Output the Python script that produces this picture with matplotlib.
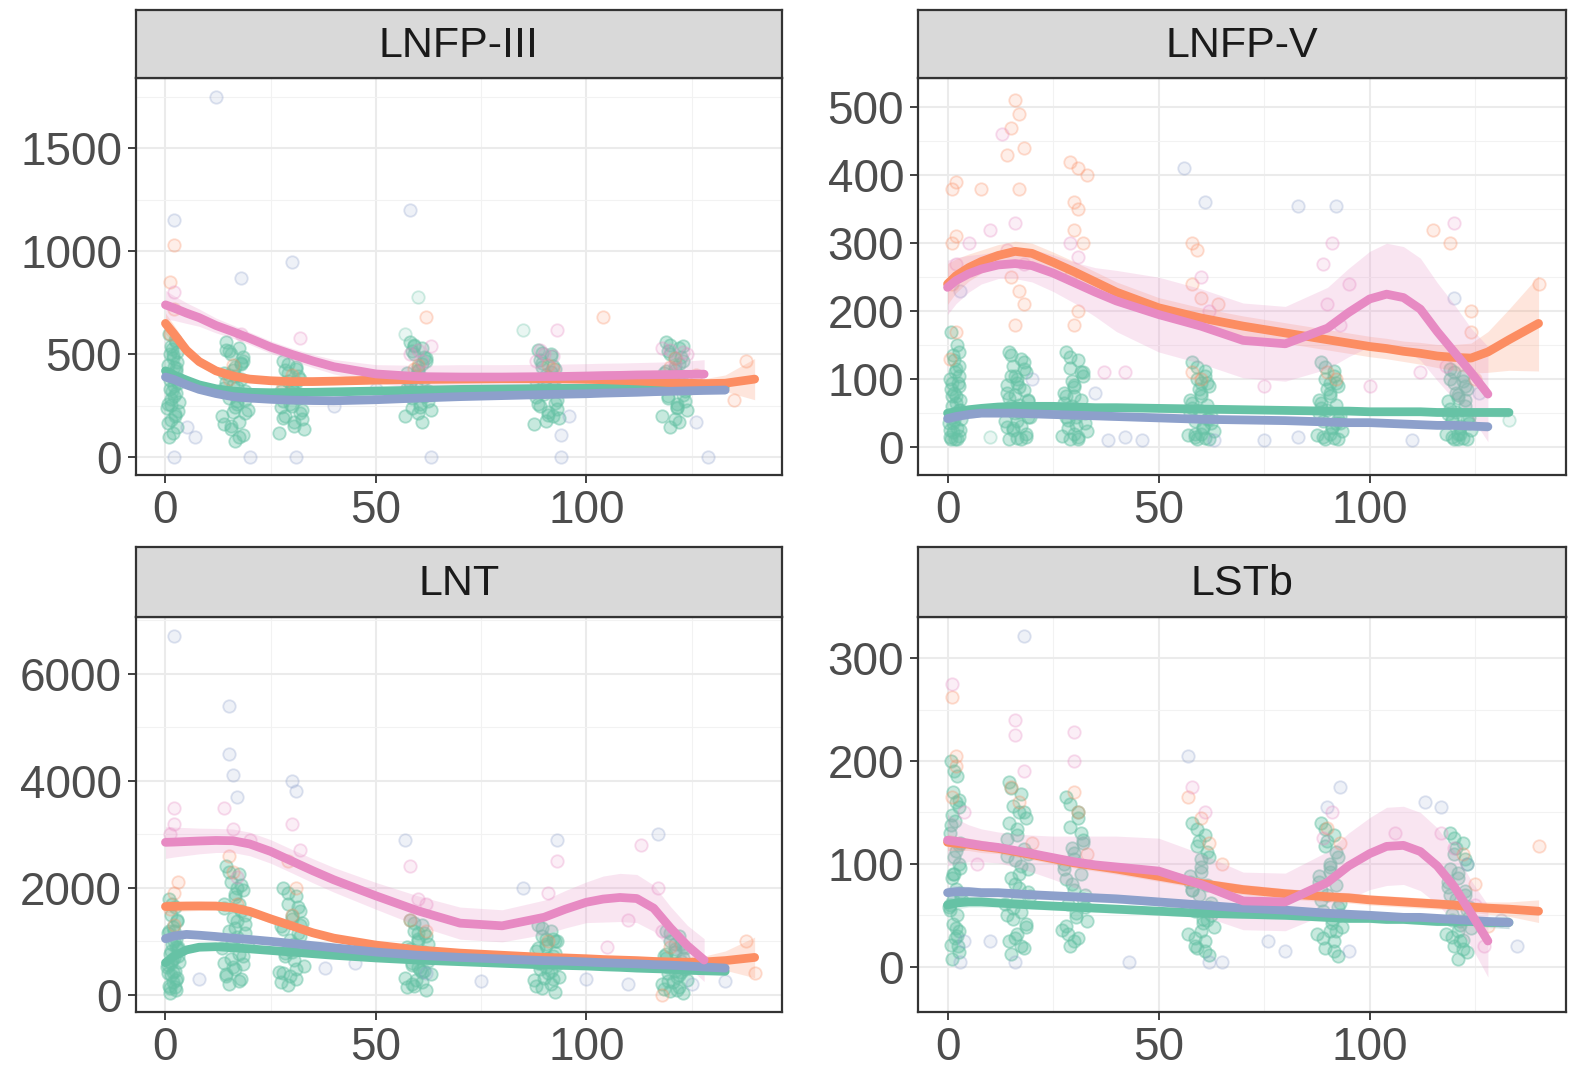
import numpy as np
import matplotlib.pyplot as plt
from matplotlib.colors import to_rgba
from matplotlib.ticker import MultipleLocator

plt.rcParams['font.family'] = ['Liberation Sans', 'DejaVu Sans']

GREEN = "#66C2A5"
ORANGE = "#FC8D62"
BLUE = "#8DA0CB"
PINK = "#E78AC3"

panel_titles = ["LNFP-III", "LNFP-V", "LNT", "LSTb"]
x_ticks = [0, 50, 100]

# sampling days of the green group (same subjects / days for every HMO)
green_days = [0.8, 2.3, 1.3, 2.8, 1.8, 0.6, 2.6, 1.6, 3.0, 1.1, 2.1, 3.2, 0.3, 2.3, 1.3, 2.8, 1.8, 0.8, 2.6, 1.1, 2.1, 3.0, 1.6, 0.6, 2.3,
              14.5, 17.5, 15.5, 18.5, 16.5, 14, 18, 16, 19, 15, 17, 19.5, 13.5, 17.5, 15.5, 18.5, 16.5, 14.5, 18, 15, 17, 19, 16, 14, 17.5,
              28, 31, 29, 32, 30, 27.5, 31.5, 29.5, 32.5, 28.5, 30.5, 33, 27, 31, 29, 32, 30, 28,
              58, 61, 59, 62, 60, 57.5, 61.5, 59.5, 62.5, 58.5, 60.5, 63, 57, 61, 59, 62, 60, 58, 61.5, 58.5,
              88.5, 91.5, 89.5, 92.5, 90.5, 88, 92, 90, 93, 89, 91, 93.5, 87.5, 91.5, 89.5, 92.5, 90.5, 88.5, 92,
              119, 122, 120, 123, 121, 118.5, 122.5, 120.5, 123.5, 119.5, 121.5, 124, 118, 122, 120, 123, 121, 119, 122.5, 119.5, 121.5]
green_days_b = [1.5, 2.7, 0.9, 2.0, 1.2, 2.9, 0.5, 1.9, 2.4, 1.0, 2.6, 1.4,
                15, 18, 16.5, 14, 17, 19, 15.5, 18.5, 16, 14.5, 17.5, 16.5,
                29, 31.5, 30, 28, 32, 30.5, 28.5, 31, 29.5, 27.5, 32.5, 30,
                59, 61.5, 60, 58, 62, 60.5, 58.5, 61, 59.5, 57.5, 62.5, 60,
                89.5, 92, 90.5, 88.5, 92.5, 91, 89, 91.5, 90, 88, 93, 90.5,
                120, 122.5, 121, 119, 123, 121.5, 119.5, 122, 120.5, 118.5, 123.5, 121]

# x positions of the loess fits
smooth_x = [0, 2, 5, 8, 12, 16, 20, 25, 30, 35, 40, 50, 60, 70, 80, 90, 95, 100, 104, 108, 112, 116, 120, 124, 128, 133, 140]

# ---------------- LNFP-III ----------------
lnfp3_green_y = [600, 570, 540, 510, 480, 450, 420, 390, 360, 330, 300, 270, 240, 210, 180, 150, 120, 100, 560, 500, 440, 380, 320, 260, 200,
                 560, 530, 500, 470, 440, 410, 380, 350, 320, 290, 260, 230, 200, 170, 140, 110, 80, 520, 460, 400, 340, 280, 220, 160, 100,
                 470, 440, 410, 380, 350, 320, 290, 260, 230, 200, 170, 140, 120, 430, 370, 310, 250, 190,
                 560, 530, 500, 470, 440, 410, 380, 350, 320, 290, 260, 230, 200, 170, 540, 480, 420, 360, 300, 240,
                 520, 490, 460, 430, 400, 370, 340, 310, 280, 250, 220, 190, 160, 500, 440, 380, 320, 260, 200,
                 560, 530, 500, 470, 440, 410, 380, 350, 320, 290, 260, 230, 200, 170, 150, 540, 480, 420, 360, 300, 240]
lnfp3_green_y_b = [525, 465, 405, 345, 285, 225, 165, 495, 435, 375, 315, 255,
                   515, 455, 395, 335, 275, 215, 155, 485, 425, 365, 305, 245,
                   455, 395, 335, 275, 215, 155, 425, 365, 305, 245, 185, 325,
                   545, 485, 425, 365, 305, 245, 515, 455, 395, 335, 275, 215,
                   505, 445, 385, 325, 265, 205, 475, 415, 355, 295, 235, 175,
                   545, 485, 425, 365, 305, 245, 515, 455, 395, 335, 275, 185]
lnfp3_extra_x = [60, 85, 57]
lnfp3_extra_y = [780, 620, 600]
lnfp3_orange_x = [2, 1, 2, 62, 104, 138, 135, 1, 16, 30, 60, 92, 121, 126, 59, 91, 120, 15, 28]
lnfp3_orange_y = [1030, 850, 720, 680, 680, 470, 280, 600, 450, 400, 450, 430, 480, 400, 430, 450, 440, 380, 350]
lnfp3_blue_x = [2, 12, 18, 30, 58, 2, 20, 31, 63, 94, 129, 94, 5, 7, 126, 96, 50, 40]
lnfp3_blue_y = [1150, 1750, 870, 950, 1200, 0, 0, 0, 0, 0, 0, 110, 150, 100, 170, 200, 330, 250]
lnfp3_pink_x = [2, 93, 18, 32, 60, 90, 120, 124, 63, 88, 58, 61, 89, 92, 118, 123, 121]
lnfp3_pink_y = [800, 620, 600, 580, 520, 500, 520, 500, 540, 470, 500, 470, 520, 490, 530, 510, 460]

lnfp3_green_fit = [420, 400, 375, 352, 333, 322, 316, 314, 315, 316, 318, 322, 326, 330, 332, 334, 335, 335, 336, 336, 337, 338, 338, 339, 340, 341, None]
lnfp3_green_se = [25, 22, 18, 15, 13, 12, 12, 12, 12, 12, 12, 12, 12, 12, 12, 12, 12, 12, 12, 12, 12, 12, 12, 13, 14, 16, None]
lnfp3_orange_fit = [650, 600, 520, 465, 420, 395, 380, 372, 368, 368, 370, 375, 378, 380, 382, 382, 381, 379, 377, 374, 371, 367, 363, 360, 358, 360, 380]
lnfp3_orange_se = [50, 42, 30, 24, 19, 16, 15, 15, 15, 15, 15, 15, 15, 15, 15, 15, 15, 15, 15, 15, 16, 17, 18, 20, 24, 40, 100]
lnfp3_blue_fit = [390, 378, 352, 330, 310, 295, 288, 282, 278, 276, 275, 280, 288, 295, 300, 305, 307, 309, 312, 314, 316, 319, 321, 323, 325, 327, None]
lnfp3_blue_se = [22, 19, 16, 14, 13, 12, 11, 11, 11, 11, 11, 11, 11, 11, 11, 11, 11, 11, 11, 11, 12, 12, 13, 15, 17, 20, None]
lnfp3_pink_fit = [740, 725, 700, 678, 640, 610, 578, 535, 500, 468, 440, 405, 392, 390, 390, 392, 393, 395, 397, 398, 400, 401, 402, 403, 404, None, None]
lnfp3_pink_se = [70, 60, 50, 42, 36, 32, 30, 30, 30, 32, 35, 45, 55, 60, 60, 60, 60, 60, 60, 60, 60, 61, 62, 65, 70, None, None]

# ---------------- LNFP-V ----------------
lnfp5_green_y = [170, 150, 135, 120, 110, 100, 90, 80, 70, 60, 50, 42, 35, 28, 22, 16, 12, 12, 140, 95, 75, 55, 40, 25, 12,
                 140, 130, 120, 110, 100, 92, 84, 76, 68, 60, 52, 45, 38, 31, 25, 19, 13, 12, 125, 105, 88, 70, 50, 30, 12,
                 140, 128, 116, 104, 92, 80, 70, 60, 50, 40, 32, 24, 17, 12, 12, 110, 75, 45,
                 125, 112, 100, 90, 80, 70, 62, 54, 46, 38, 30, 24, 18, 13, 12, 12, 95, 65, 42, 20,
                 125, 112, 100, 90, 80, 70, 62, 54, 46, 38, 30, 24, 18, 13, 12, 12, 95, 65, 35,
                 115, 105, 95, 85, 76, 68, 60, 52, 45, 38, 31, 25, 19, 14, 12, 12, 12, 100, 70, 42, 20]
lnfp5_green_y_b = [128, 105, 85, 65, 45, 25, 15, 115, 95, 75, 55, 35,
                   135, 115, 95, 80, 62, 45, 28, 15, 105, 72, 55, 38,
                   132, 110, 88, 75, 55, 45, 28, 15, 98, 65, 35, 20,
                   118, 95, 75, 58, 42, 28, 15, 105, 85, 50, 35, 20,
                   118, 95, 75, 58, 42, 28, 15, 105, 85, 50, 35, 20,
                   110, 90, 72, 56, 42, 28, 15, 98, 80, 48, 35, 20]
lnfp5_extra_x = [133, 10]
lnfp5_extra_y = [40, 15]
lnfp5_orange_x = [16, 17, 15, 18, 14, 17, 2, 1, 8, 29, 31, 33, 30, 31, 30, 32, 2, 1, 15, 17, 18, 16,
                  29, 31, 30, 1, 2, 0.5, 58, 59, 58, 60, 64, 58, 60, 115, 119, 124, 124, 140, 90, 92, 125]
lnfp5_orange_y = [510, 490, 470, 440, 430, 380, 390, 380, 380, 420, 410, 400, 360, 350, 320, 300, 310, 300,
                  250, 230, 210, 180, 250, 200, 180, 240, 170, 130, 300, 290, 240, 220, 210, 110, 100,
                  320, 300, 200, 170, 240, 110, 100, 100]
lnfp5_blue_x = [56, 61, 83, 92, 38, 42, 46, 63, 75, 83, 110, 3, 20, 35, 120, 126]
lnfp5_blue_y = [410, 360, 355, 355, 10, 15, 10, 10, 10, 15, 10, 230, 100, 80, 220, 80]
lnfp5_pink_x = [13, 16, 14, 18, 29, 31, 2, 5, 60, 62, 89, 91, 90, 95, 93, 120, 118, 112, 100, 75, 37, 42, 10]
lnfp5_pink_y = [460, 330, 290, 270, 300, 280, 270, 300, 250, 200, 270, 300, 210, 240, 180, 330, 120, 110, 90,
                90, 110, 110, 320]

lnfp5_green_fit = [50, 52, 55, 57, 59, 60, 60, 60, 59, 58, 58, 57, 56, 55, 54, 53, 53, 52, 52, 52, 52, 51, 51, 51, 51, 51, None]
lnfp5_green_se = [8, 7, 6, 5, 5, 5, 5, 5, 5, 5, 5, 5, 5, 5, 5, 5, 5, 5, 5, 5, 5, 5, 5, 5, 6, 7, None]
lnfp5_orange_fit = [240, 252, 264, 273, 282, 288, 285, 272, 258, 243, 228, 205, 190, 178, 168, 158, 153, 148, 145, 141, 138, 134, 132, 131, 140, 158, 182]
lnfp5_orange_se = [30, 25, 20, 17, 16, 15, 15, 15, 15, 15, 15, 15, 15, 15, 15, 15, 15, 15, 15, 15, 16, 17, 19, 22, 30, 45, 70]
lnfp5_blue_fit = [42, 45, 48, 50, 50, 50, 49, 48, 47, 46, 45, 43, 41, 40, 39, 37, 36, 36, 35, 34, 33, 32, 32, 31, 30, None, None]
lnfp5_blue_se = [8, 7, 6, 5, 5, 5, 5, 5, 5, 5, 5, 5, 5, 5, 5, 5, 5, 5, 5, 5, 5, 5, 5, 6, 7, None, None]
lnfp5_pink_fit = [235, 245, 255, 262, 268, 270, 267, 256, 242, 228, 215, 195, 178, 157, 152, 175, 198, 218, 225, 220, 203, 170, 140, 110, 78, None, None]
lnfp5_pink_se = [40, 34, 27, 22, 20, 22, 24, 27, 30, 36, 45, 55, 55, 55, 55, 60, 65, 70, 75, 75, 75, 72, 70, 65, 70, None, None]

# ---------------- LNT ----------------
lnt_green_y = [1800, 1650, 1500, 1380, 1260, 1150, 1050, 950, 860, 770, 690, 610, 530, 450, 380, 310, 240, 170, 100, 40, 1200, 900, 650, 400, 150,
               2400, 2250, 2100, 1960, 1820, 1690, 1560, 1440, 1320, 1200, 1090, 980, 870, 770, 670, 570, 480, 390, 300, 210, 2000, 1500, 1000, 600, 250,
               2000, 1850, 1700, 1560, 1420, 1290, 1160, 1030, 900, 780, 660, 540, 420, 300, 180, 1300, 800, 400,
               1400, 1300, 1200, 1100, 1000, 900, 810, 720, 630, 550, 470, 390, 310, 240, 170, 100, 1150, 750, 450, 200,
               1300, 1200, 1100, 1000, 910, 820, 730, 650, 570, 490, 410, 340, 270, 200, 130, 60, 1050, 600, 300,
               1200, 1100, 1000, 900, 810, 720, 640, 560, 480, 410, 340, 270, 200, 140, 80, 30, 950, 680, 430, 250, 100]
lnt_green_y_b = [1700, 1400, 1200, 1000, 820, 720, 560, 420, 280, 130, 900, 600,
                 2300, 2050, 1880, 1620, 1380, 1150, 930, 720, 520, 350, 1700, 1250,
                 1900, 1650, 1480, 1230, 1100, 950, 720, 480, 350, 240, 1350, 850,
                 1350, 1150, 1050, 860, 760, 680, 590, 430, 280, 140, 950, 520,
                 1250, 1050, 950, 870, 780, 690, 600, 450, 310, 170, 1000, 520,
                 1150, 950, 850, 760, 680, 600, 520, 380, 240, 110, 880, 450]
lnt_extra_x = []
lnt_extra_y = []
lnt_orange_x = [2, 3, 15, 16, 29, 31, 1, 2, 58, 62, 91, 120, 138, 140, 118, 17, 30]
lnt_orange_y = [1900, 2100, 2600, 2300, 2500, 2000, 1600, 1300, 1400, 1200, 1000, 900, 1000, 400, 0, 1700, 1500]
lnt_blue_x = [2, 15, 15, 16, 17, 30, 31, 57, 93, 117, 85, 38, 8, 62, 75, 110, 100, 133, 125, 45]
lnt_blue_y = [6700, 5400, 4500, 4100, 3700, 4000, 3800, 2900, 2900, 3000, 2000, 500, 300, 400, 250, 200, 300,
              250, 200, 600]
lnt_pink_x = [2, 2, 1, 14, 16, 20, 30, 17, 32, 58, 60, 93, 91, 113, 117, 105, 118, 62, 110]
lnt_pink_y = [3500, 3200, 3000, 3500, 3100, 2900, 3200, 2200, 2700, 2400, 1800, 2500, 1900, 2800, 2000, 900,
              1200, 1700, 1400]

lnt_green_fit = [600, 720, 840, 890, 900, 880, 860, 830, 800, 770, 740, 690, 650, 620, 590, 560, 550, 540, 525, 515, 500, 490, 480, 460, 450, 440, None]
lnt_green_se = [70, 60, 50, 45, 40, 40, 40, 38, 35, 32, 30, 30, 30, 30, 30, 30, 30, 30, 30, 30, 30, 30, 30, 35, 40, 50, None]
lnt_orange_fit = [1650, 1655, 1660, 1662, 1660, 1630, 1560, 1420, 1290, 1160, 1060, 930, 840, 780, 740, 700, 690, 675, 660, 650, 640, 625, 615, 610, 615, 640, 700]
lnt_orange_se = [120, 100, 90, 85, 80, 80, 80, 78, 70, 66, 65, 65, 65, 65, 65, 65, 65, 65, 65, 68, 70, 73, 78, 85, 110, 180, 380]
lnt_blue_fit = [1050, 1100, 1130, 1115, 1090, 1060, 1035, 1000, 960, 920, 880, 800, 740, 700, 670, 640, 630, 615, 600, 590, 580, 565, 555, 540, 520, 500, None]
lnt_blue_se = [90, 80, 70, 60, 55, 50, 47, 43, 40, 37, 35, 35, 35, 35, 35, 35, 35, 35, 35, 35, 35, 37, 39, 42, 48, 60, None]
lnt_pink_fit = [2850, 2855, 2865, 2875, 2885, 2880, 2820, 2680, 2500, 2320, 2150, 1850, 1570, 1340, 1290, 1450, 1600, 1730, 1790, 1820, 1800, 1620, 1250, 920, 650, None, None]
lnt_pink_se = [300, 280, 260, 240, 225, 220, 220, 220, 220, 225, 230, 250, 280, 300, 300, 320, 350, 380, 430, 450, 450, 430, 400, 380, 400, None, None]

# ---------------- LSTb ----------------
lstb_green_y = [200, 185, 170, 155, 142, 130, 118, 107, 96, 86, 76, 67, 58, 50, 42, 35, 28, 21, 14, 8, 160, 120, 90, 60, 30,
                180, 168, 156, 145, 134, 124, 114, 104, 95, 86, 77, 69, 61, 53, 46, 39, 32, 25, 18, 12, 150, 110, 80, 50, 20,
                165, 150, 136, 123, 111, 100, 90, 80, 70, 61, 52, 44, 36, 28, 20, 120, 75, 40,
                140, 128, 117, 107, 97, 88, 79, 70, 62, 54, 46, 39, 32, 25, 18, 11, 105, 75, 45, 20,
                140, 128, 117, 107, 97, 88, 79, 70, 62, 54, 46, 39, 32, 25, 18, 10, 100, 65, 35,
                130, 120, 110, 100, 91, 82, 74, 66, 58, 51, 44, 38, 32, 26, 20, 14, 8, 95, 70, 45, 25]
lstb_green_y_b = [190, 162, 138, 113, 90, 72, 55, 38, 20, 148, 100, 65,
                  174, 150, 128, 108, 90, 73, 57, 42, 28, 140, 98, 65,
                  158, 130, 105, 85, 66, 48, 32, 145, 115, 95, 58, 25,
                  134, 112, 92, 75, 58, 43, 28, 15, 122, 82, 50, 35,
                  134, 112, 92, 75, 58, 43, 28, 15, 122, 82, 50, 35,
                  125, 105, 86, 70, 55, 41, 29, 17, 115, 78, 48, 35]
lstb_extra_x = []
lstb_extra_y = []
lstb_orange_x = [1, 2, 2, 1, 15, 17, 30, 31, 57, 60, 62, 65, 90, 93, 140, 122, 125, 128, 20, 33]
lstb_orange_y = [262, 205, 195, 165, 175, 160, 170, 150, 165, 145, 120, 100, 135, 120, 117, 110, 80, 40, 120, 110]
lstb_blue_x = [18, 57, 93, 90, 113, 117, 123, 43, 62, 65, 76, 80, 3, 16, 4, 10, 95, 135, 131]
lstb_blue_y = [322, 205, 175, 155, 160, 155, 100, 5, 5, 5, 25, 15, 5, 5, 25, 25, 15, 20, 45]
lstb_pink_x = [1, 16, 16, 30, 18, 30, 58, 61, 89, 91, 117, 120, 106, 4, 7, 125, 127]
lstb_pink_y = [275, 240, 225, 228, 190, 200, 175, 150, 125, 150, 130, 115, 130, 150, 100, 60, 20]

lstb_green_fit = [60, 62, 63, 63, 62, 61, 60, 59, 58, 57, 56, 54, 52, 51, 50, 48, 47, 47, 46, 46, 45, 44, 44, 44, 43, 43, None]
lstb_green_se = [6, 6, 5, 5, 4, 4, 4, 4, 4, 4, 4, 4, 4, 4, 4, 4, 4, 4, 4, 4, 4, 4, 4, 4, 5, 6, None]
lstb_orange_fit = [121, 120, 119, 117, 115, 112, 109, 105, 101, 98, 95, 88, 81, 75, 71, 68, 67, 65, 64, 63, 62, 61, 60, 58, 57, 56, 54]
lstb_orange_se = [8, 7, 6, 6, 5, 5, 5, 5, 5, 5, 5, 5, 5, 5, 5, 5, 5, 5, 5, 5, 5, 5, 5, 5, 6, 7, 11]
lstb_blue_fit = [72, 73, 73, 72, 72, 71, 70, 69, 68, 67, 66, 63, 60, 57, 55, 52, 51, 50, 49, 48, 48, 47, 46, 45, 44, 43, None]
lstb_blue_se = [6, 6, 5, 5, 4, 4, 4, 4, 4, 4, 4, 4, 4, 4, 4, 4, 4, 4, 4, 4, 4, 4, 4, 4, 5, 6, None]
lstb_pink_fit = [123, 122, 120, 118, 116, 113, 110, 106, 102, 99, 97, 93, 80, 64, 63, 82, 98, 110, 117, 118, 112, 98, 78, 52, 25, None, None]
lstb_pink_se = [25, 22, 18, 16, 15, 16, 18, 21, 25, 28, 30, 32, 30, 28, 28, 30, 32, 35, 38, 38, 38, 37, 35, 32, 35, None, None]

# first two entries of each panel are the dense green columns
panel_points = [
    [(green_days, lnfp3_green_y, GREEN), (green_days_b, lnfp3_green_y_b, GREEN),
     (lnfp3_extra_x, lnfp3_extra_y, GREEN), (lnfp3_orange_x, lnfp3_orange_y, ORANGE),
     (lnfp3_blue_x, lnfp3_blue_y, BLUE), (lnfp3_pink_x, lnfp3_pink_y, PINK)],
    [(green_days, lnfp5_green_y, GREEN), (green_days_b, lnfp5_green_y_b, GREEN),
     (lnfp5_extra_x, lnfp5_extra_y, GREEN), (lnfp5_orange_x, lnfp5_orange_y, ORANGE),
     (lnfp5_blue_x, lnfp5_blue_y, BLUE), (lnfp5_pink_x, lnfp5_pink_y, PINK)],
    [(green_days, lnt_green_y, GREEN), (green_days_b, lnt_green_y_b, GREEN),
     (lnt_extra_x, lnt_extra_y, GREEN), (lnt_orange_x, lnt_orange_y, ORANGE),
     (lnt_blue_x, lnt_blue_y, BLUE), (lnt_pink_x, lnt_pink_y, PINK)],
    [(green_days, lstb_green_y, GREEN), (green_days_b, lstb_green_y_b, GREEN),
     (lstb_extra_x, lstb_extra_y, GREEN), (lstb_orange_x, lstb_orange_y, ORANGE),
     (lstb_blue_x, lstb_blue_y, BLUE), (lstb_pink_x, lstb_pink_y, PINK)],
]
panel_fits = [
    [(lnfp3_green_fit, lnfp3_green_se, GREEN), (lnfp3_orange_fit, lnfp3_orange_se, ORANGE),
     (lnfp3_blue_fit, lnfp3_blue_se, BLUE), (lnfp3_pink_fit, lnfp3_pink_se, PINK)],
    [(lnfp5_green_fit, lnfp5_green_se, GREEN), (lnfp5_orange_fit, lnfp5_orange_se, ORANGE),
     (lnfp5_blue_fit, lnfp5_blue_se, BLUE), (lnfp5_pink_fit, lnfp5_pink_se, PINK)],
    [(lnt_green_fit, lnt_green_se, GREEN), (lnt_orange_fit, lnt_orange_se, ORANGE),
     (lnt_blue_fit, lnt_blue_se, BLUE), (lnt_pink_fit, lnt_pink_se, PINK)],
    [(lstb_green_fit, lstb_green_se, GREEN), (lstb_orange_fit, lstb_orange_se, ORANGE),
     (lstb_blue_fit, lstb_blue_se, BLUE), (lstb_pink_fit, lstb_pink_se, PINK)],
]
panel_yticks = [[0, 500, 1000, 1500], [0, 100, 200, 300, 400, 500],
                [0, 2000, 4000, 6000], [0, 100, 200, 300]]
panel_ylims = [(-85, 1840), (-41, 543), (-320, 7060), (-44, 340)]
panel_yminor = [250, 50, 1000, 50]

# figure layout (pixels of a 1576x1075 canvas)
W, H = 1576, 1075
col_x = [(136, 782), (918, 1566)]
row_y = [(10, 78, 475), (547, 617, 1012)]

fig = plt.figure(figsize=(W / 100, H / 100), dpi=100)
fig.patch.set_facecolor("white")

x = np.array(smooth_x, dtype=float)

for i in range(4):
    r, c = divmod(i, 2)
    x0, x1 = col_x[c]
    s0, p0, p1 = row_y[r]
    ax = fig.add_axes([x0 / W, 1 - p1 / H, (x1 - x0) / W, (p1 - p0) / H])
    sax = fig.add_axes([x0 / W, 1 - p0 / H, (x1 - x0) / W, (p0 - s0) / H])

    # strip
    sax.set_facecolor("#d9d9d9")
    sax.set_xticks([])
    sax.set_yticks([])
    for sp in sax.spines.values():
        sp.set_color("#333333")
        sp.set_linewidth(1.6)
    sax.text(0.5, 0.47, panel_titles[i], ha="center", va="center",
             fontsize=31, color="#1a1a1a", transform=sax.transAxes)

    # points: the dense green columns stronger, the scattered ones faint
    for k, (px, py, col) in enumerate(panel_points[i]):
        if len(px) == 0:
            continue
        fa, ea = (0.36, 0.5) if k < 2 else (0.14, 0.3)
        ax.scatter(px, py, s=80, facecolor=to_rgba(col, fa), edgecolor=to_rgba(col, ea),
                   linewidth=1.3, zorder=2)

    # loess fits with confidence ribbons
    for fit, se, col in panel_fits[i]:
        f = np.array([np.nan if v is None else v for v in fit], dtype=float)
        e = np.array([np.nan if v is None else v for v in se], dtype=float)
        ax.fill_between(x, f - e, f + e, color=col, alpha=0.22, linewidth=0, zorder=3)
        ax.plot(x, f, color=col, linewidth=6.3, solid_capstyle="round",
                solid_joinstyle="round", zorder=4)

    ax.set_xlim(-7, 146.5)
    ax.set_ylim(*panel_ylims[i])
    ax.set_xticks(x_ticks)
    ax.set_yticks(panel_yticks[i])
    ax.xaxis.set_minor_locator(MultipleLocator(25))
    ax.yaxis.set_minor_locator(MultipleLocator(panel_yminor[i]))
    ax.grid(which="major", color="#ebebeb", linewidth=1.5, zorder=0)
    ax.grid(which="minor", color="#f2f2f2", linewidth=0.8, zorder=0)
    ax.set_axisbelow(True)
    ax.tick_params(which="major", length=6, width=1.3, color="#333333",
                   labelsize=33, labelcolor="#4d4d4d", pad=4)
    ax.tick_params(which="minor", length=0)
    for sp in ax.spines.values():
        sp.set_color("#333333")
        sp.set_linewidth(1.6)

fig.savefig("out.png", dpi=100, facecolor="white")
